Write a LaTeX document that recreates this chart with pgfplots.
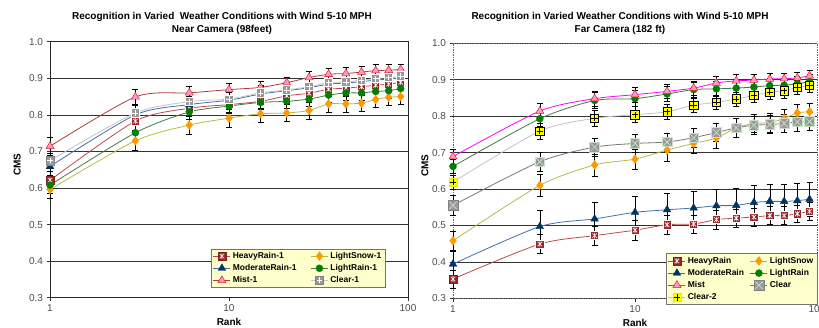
\documentclass[border=0pt]{standalone}
\usepackage{pgfplots}
\pgfplotsset{compat=1.18}
\usepackage{pgfplotstable}
\usepackage{fontspec}
\setmainfont{Liberation Sans}

\definecolor{hrFill}{RGB}{153,40,40}
\definecolor{hrLine}{RGB}{185,75,75}
\definecolor{mrMark}{RGB}{0,51,102}
\definecolor{mrLine}{RGB}{70,110,170}
\definecolor{lsMark}{RGB}{255,153,0}
\definecolor{lsLine}{RGB}{185,185,70}
\definecolor{lrMark}{RGB}{0,128,0}
\definecolor{lrLine}{RGB}{70,120,70}
\definecolor{miFill}{RGB}{255,153,204}
\definecolor{miDraw}{RGB}{230,30,30}
\definecolor{miLineL}{RGB}{175,60,60}
\definecolor{miLineR}{RGB}{255,0,255}
\definecolor{clFill}{RGB}{153,153,153}
\definecolor{clLineL}{RGB}{195,195,195}
\definecolor{clLineR}{RGB}{120,120,120}
\definecolor{c2Fill}{RGB}{255,255,0}
\definecolor{legfill}{RGB}{255,255,204}
\definecolor{xlight}{RGB}{200,225,200}

% square with white asterisk
\pgfdeclareplotmark{sqast}{%
  \pgfpathrectangle{\pgfqpoint{-\pgfplotmarksize}{-\pgfplotmarksize}}{\pgfqpoint{2\pgfplotmarksize}{2\pgfplotmarksize}}%
  \pgfusepathqfillstroke
  \pgfsetstrokecolor{white}\pgfsetlinewidth{0.6pt}%
  \pgfpathmoveto{\pgfqpoint{-0.55\pgfplotmarksize}{-0.55\pgfplotmarksize}}\pgfpathlineto{\pgfqpoint{0.55\pgfplotmarksize}{0.55\pgfplotmarksize}}%
  \pgfpathmoveto{\pgfqpoint{-0.55\pgfplotmarksize}{0.55\pgfplotmarksize}}\pgfpathlineto{\pgfqpoint{0.55\pgfplotmarksize}{-0.55\pgfplotmarksize}}%
  \pgfpathmoveto{\pgfqpoint{0pt}{-0.7\pgfplotmarksize}}\pgfpathlineto{\pgfqpoint{0pt}{0.7\pgfplotmarksize}}%
  \pgfusepathqstroke}
% square with white plus
\pgfdeclareplotmark{sqplusw}{%
  \pgfpathrectangle{\pgfqpoint{-\pgfplotmarksize}{-\pgfplotmarksize}}{\pgfqpoint{2\pgfplotmarksize}{2\pgfplotmarksize}}%
  \pgfusepathqfillstroke
  \pgfsetstrokecolor{white}\pgfsetlinewidth{0.8pt}%
  \pgfpathmoveto{\pgfqpoint{-0.7\pgfplotmarksize}{0pt}}\pgfpathlineto{\pgfqpoint{0.7\pgfplotmarksize}{0pt}}%
  \pgfpathmoveto{\pgfqpoint{0pt}{-0.7\pgfplotmarksize}}\pgfpathlineto{\pgfqpoint{0pt}{0.7\pgfplotmarksize}}%
  \pgfusepathqstroke}
% square with black plus
\pgfdeclareplotmark{sqplusb}{%
  \pgfpathrectangle{\pgfqpoint{-\pgfplotmarksize}{-\pgfplotmarksize}}{\pgfqpoint{2\pgfplotmarksize}{2\pgfplotmarksize}}%
  \pgfusepathqfillstroke
  \pgfsetstrokecolor{black}\pgfsetlinewidth{0.7pt}%
  \pgfpathmoveto{\pgfqpoint{-0.75\pgfplotmarksize}{0pt}}\pgfpathlineto{\pgfqpoint{0.75\pgfplotmarksize}{0pt}}%
  \pgfpathmoveto{\pgfqpoint{0pt}{-0.75\pgfplotmarksize}}\pgfpathlineto{\pgfqpoint{0pt}{0.75\pgfplotmarksize}}%
  \pgfusepathqstroke}
% square with light x
\pgfdeclareplotmark{sqx}{%
  \pgfpathrectangle{\pgfqpoint{-\pgfplotmarksize}{-\pgfplotmarksize}}{\pgfqpoint{2\pgfplotmarksize}{2\pgfplotmarksize}}%
  \pgfusepathqfillstroke
  \pgfsetstrokecolor{xlight}\pgfsetlinewidth{0.7pt}%
  \pgfpathmoveto{\pgfqpoint{-0.8\pgfplotmarksize}{-0.8\pgfplotmarksize}}\pgfpathlineto{\pgfqpoint{0.8\pgfplotmarksize}{0.8\pgfplotmarksize}}%
  \pgfpathmoveto{\pgfqpoint{-0.8\pgfplotmarksize}{0.8\pgfplotmarksize}}\pgfpathlineto{\pgfqpoint{0.8\pgfplotmarksize}{-0.8\pgfplotmarksize}}%
  \pgfusepathqstroke}

% ---------------- Near camera data ----------------
\pgfplotstableread{
x y e
1 0.621 0.025
3 0.783 0.025
6 0.818 0.022
10 0.828 0.020
15 0.837 0.020
21 0.852 0.020
28 0.859 0.020
36 0.870 0.020
45 0.873 0.020
55 0.877 0.020
66 0.881 0.020
78 0.884 0.020
91 0.889 0.020
}\nHR
\pgfplotstableread{
x y e
1 0.596 0.025
3 0.729 0.026
6 0.772 0.025
10 0.791 0.024
15 0.803 0.023
21 0.805 0.023
28 0.812 0.023
36 0.830 0.024
45 0.830 0.022
55 0.832 0.022
66 0.842 0.022
78 0.848 0.022
91 0.850 0.022
}\nLS
\pgfplotstableread{
x y e
1 0.659 0.025
3 0.800 0.025
6 0.828 0.022
10 0.840 0.022
15 0.857 0.022
21 0.866 0.022
28 0.874 0.022
36 0.884 0.022
45 0.887 0.022
55 0.891 0.022
66 0.895 0.022
78 0.898 0.022
91 0.902 0.022
}\nMR
\pgfplotstableread{
x y e
1 0.608 0.022
3 0.751 0.022
6 0.808 0.020
10 0.824 0.020
15 0.834 0.020
21 0.837 0.020
28 0.843 0.020
36 0.854 0.020
45 0.860 0.020
55 0.860 0.020
66 0.864 0.020
78 0.866 0.020
91 0.872 0.020
}\nLR
\pgfplotstableread{
x y e
1 0.714 0.024
3 0.849 0.020
6 0.860 0.017
10 0.869 0.018
15 0.875 0.018
21 0.888 0.016
28 0.902 0.016
36 0.911 0.016
45 0.913 0.016
55 0.917 0.016
66 0.921 0.016
78 0.922 0.015
91 0.924 0.014
}\nMI
\pgfplotstableread{
x y e
1 0.675 0.020
3 0.805 0.022
6 0.836 0.020
10 0.843 0.020
15 0.860 0.020
21 0.868 0.020
28 0.877 0.020
36 0.888 0.020
45 0.890 0.020
55 0.895 0.020
66 0.899 0.020
78 0.902 0.020
91 0.906 0.020
}\nCL

% ---------------- Far camera data ----------------
\pgfplotstableread{
x y e
1 0.353 0.025
3 0.449 0.026
6 0.472 0.027
10 0.487 0.027
15 0.502 0.026
21 0.504 0.025
28 0.516 0.026
36 0.520 0.025
45 0.523 0.024
55 0.527 0.025
66 0.527 0.025
78 0.532 0.024
91 0.539 0.024
}\fHR
\pgfplotstableread{
x y e
1 0.458 0.025
3 0.610 0.030
6 0.666 0.030
10 0.682 0.028
15 0.707 0.030
21 0.725 0.028
28 0.740 0.028
36 0.768 0.025
45 0.780 0.025
55 0.782 0.025
66 0.794 0.024
78 0.809 0.024
91 0.812 0.024
}\fLS
\pgfplotstableread{
x y e
1 0.394 0.035
3 0.497 0.045
6 0.518 0.045
10 0.536 0.045
15 0.543 0.045
21 0.548 0.046
28 0.554 0.046
36 0.555 0.047
45 0.563 0.046
55 0.566 0.047
66 0.566 0.047
78 0.568 0.047
91 0.572 0.047
}\fMR
\pgfplotstableread{
x y e
1 0.662 0.020
3 0.793 0.022
6 0.843 0.022
10 0.848 0.022
15 0.861 0.020
21 0.873 0.020
28 0.875 0.020
36 0.877 0.020
45 0.880 0.020
55 0.884 0.020
66 0.885 0.020
78 0.889 0.020
91 0.895 0.020
}\fLR
\pgfplotstableread{
x y e
1 0.689 0.020
3 0.814 0.022
6 0.848 0.020
10 0.859 0.020
15 0.868 0.020
21 0.877 0.020
28 0.891 0.018
36 0.897 0.017
45 0.899 0.016
55 0.902 0.016
66 0.903 0.016
78 0.905 0.016
91 0.911 0.015
}\fMI
\pgfplotstableread{
x y e
1 0.555 0.028
3 0.675 0.026
6 0.715 0.025
10 0.725 0.025
15 0.729 0.025
21 0.741 0.025
28 0.755 0.025
36 0.768 0.025
45 0.775 0.025
55 0.777 0.025
66 0.780 0.025
78 0.784 0.025
91 0.785 0.025
}\fCL
\pgfplotstableread{
x y e
1 0.619 0.020
3 0.759 0.022
6 0.794 0.022
10 0.804 0.022
15 0.812 0.020
21 0.830 0.020
28 0.838 0.020
36 0.847 0.020
45 0.857 0.020
55 0.866 0.020
66 0.870 0.020
78 0.879 0.020
91 0.884 0.018
}\fCT

\pgfplotsset{
  eb/.style={error bars/.cd, y dir=both, y explicit,
    error bar style={black, line width=0.5bp, solid},
    error mark options={black, mark size=3bp, line width=0.5bp, rotate=90}},
  hr/.style={hrLine, mark=sqast, mark size=4.1bp, mark options={fill=hrFill, draw=hrFill!80!black, line width=0.4bp}},
  ls/.style={lsLine, mark=diamond*, mark size=4.4bp, mark options={fill=lsMark, draw=lsMark, line width=0.4bp}},
  mr/.style={mrLine, mark=triangle*, mark size=4.4bp, mark options={fill=mrMark, draw=mrMark, line width=0.4bp}},
  lr/.style={lrLine, mark=*, mark size=3.5bp, mark options={fill=lrMark, draw=lrMark, line width=0.4bp}},
  mi/.style={mark=triangle*, mark size=4.6bp, mark options={fill=miFill, draw=miDraw, line width=0.5bp}},
  cl/.style={mark=sqplusw, mark size=4.2bp, mark options={fill=clFill, draw=clFill!85!black, line width=0.4bp}},
}

\begin{document}
\begin{tikzpicture}
\useasboundingbox (0,0) rectangle (819bp,328bp);

% ---------------- Near camera ----------------
\begin{axis}[
  scale only axis, at={(50bp,30.3bp)}, anchor=south west, width=358bp, height=256bp,
  xmode=log, xmin=1, xmax=100, ymin=0.3, ymax=1.0,
  xtick={1,10,100}, xticklabels={1,10,100}, xminorticks=false,
  ytick={0.3,0.4,0.5,0.6,0.7,0.8,0.9,1.0},
  yticklabels={0.3,0.4,0.5,0.6,0.7,0.8,0.9,1.0},
  ymajorgrids, grid style={black!80, line width=0.6bp},
  xtick pos=bottom, ytick pos=left,
  tick align=outside, major tick length=3.5bp, tick style={black!80, line width=0.5bp},
  tick label style={font=\fontsize{10bp}{12bp}\selectfont, text=black!70},
  clip=false,
  xlabel={Rank}, ylabel={CMS},
  label style={font=\bfseries\fontsize{10bp}{12bp}\selectfont},
  xlabel style={at={(axis description cs:0.5,-0.095)}, anchor=center},
  ylabel style={at={(axis description cs:-0.092,0.52)}, anchor=center},
  every axis plot/.append style={line width=0.8bp, smooth, tension=0.45},
  axis line style={black!85, line width=0.6bp},
  legend cell align=left,
  legend style={fill=legfill, draw=black!55, line width=0.5bp,
    font=\bfseries\fontsize{8.5bp}{10bp}\selectfont, legend columns=2,
    at={(0.936,0.038)}, anchor=south east, inner sep=1.5bp, row sep=0.5bp,
    /tikz/every even column/.append style={column sep=12bp}},
]
\addplot[hr, eb] table[x=x,y=y,y error=e]{\nHR};
\addlegendentry{HeavyRain-1}
\addplot[ls, eb] table[x=x,y=y,y error=e]{\nLS};
\addlegendentry{LightSnow-1}
\addplot[mr, eb] table[x=x,y=y,y error=e]{\nMR};
\addlegendentry{ModerateRain-1}
\addplot[lr, eb] table[x=x,y=y,y error=e]{\nLR};
\addlegendentry{LightRain-1}
\addplot[miLineL, mi, eb] table[x=x,y=y,y error=e]{\nMI};
\addlegendentry{Mist-1}
\addplot[clLineL, cl, eb] table[x=x,y=y,y error=e]{\nCL};
\addlegendentry{Clear-1}
\end{axis}

% ---------------- Far camera ----------------
\begin{axis}[
  scale only axis, at={(453bp,29.7bp)}, anchor=south west, width=364bp, height=255bp,
  xmode=log, xmin=1, xmax=100, ymin=0.3, ymax=1.0,
  xtick={1,10,100}, xticklabels={1,10,100}, xminorticks=false,
  ytick={0.3,0.4,0.5,0.6,0.7,0.8,0.9,1.0},
  yticklabels={0.3,0.4,0.5,0.6,0.7,0.8,0.9,1.0},
  ymajorgrids, grid style={black!80, line width=0.6bp},
  xtick pos=bottom, ytick pos=left,
  tick align=outside, major tick length=3.5bp, tick style={black!80, line width=0.5bp},
  tick label style={font=\fontsize{10bp}{12bp}\selectfont, text=black!70},
  clip=false,
  xlabel={Rank}, ylabel={CMS},
  label style={font=\bfseries\fontsize{10bp}{12bp}\selectfont},
  xlabel style={at={(axis description cs:0.5,-0.095)}, anchor=center},
  ylabel style={at={(axis description cs:-0.077,0.52)}, anchor=center},
  every axis plot/.append style={line width=0.8bp, smooth, tension=0.45},
  axis line style={black!60, line width=1bp, dash pattern=on 1.5bp off 1bp},
  legend cell align=left,
  legend style={fill=legfill, draw=black!55, line width=0.5bp,
    font=\bfseries\fontsize{8.5bp}{10bp}\selectfont, legend columns=2,
    at={(1.0,-0.026)}, anchor=south east, inner sep=1.5bp, row sep=0.5bp,
    /tikz/every even column/.append style={column sep=4bp}},
]
\addplot[hr, eb] table[x=x,y=y,y error=e]{\fHR};
\addlegendentry{HeavyRain}
\addplot[ls, eb] table[x=x,y=y,y error=e]{\fLS};
\addlegendentry{LightSnow}
\addplot[mr, eb] table[x=x,y=y,y error=e]{\fMR};
\addlegendentry{ModerateRain}
\addplot[lr, eb] table[x=x,y=y,y error=e]{\fLR};
\addlegendentry{LightRain}
\addplot[miLineR, mi, eb] table[x=x,y=y,y error=e]{\fMI};
\addlegendentry{Mist}
\addplot[clLineR, mark=sqx, mark size=4.8bp, mark options={fill=clFill, draw=clFill!85!black, line width=0.4bp}, eb] table[x=x,y=y,y error=e]{\fCL};
\addlegendentry{Clear}
\addplot[clLineL, mark=sqplusb, mark size=4.2bp, mark options={fill=c2Fill, draw=c2Fill!90!black, line width=0.4bp}, eb] table[x=x,y=y,y error=e]{\fCT};
\addlegendentry{Clear-2}
\end{axis}

\node[font=\bfseries\fontsize{10bp}{13bp}\selectfont, align=center] at (222bp,304.5bp)
  {Recognition in Varied\ \ Weather Conditions with Wind 5-10 MPH\\Near Camera (98feet)};
\node[font=\bfseries\fontsize{10bp}{13bp}\selectfont, align=center] at (620bp,305bp)
  {Recognition in Varied Weather Conditions with Wind 5-10 MPH\\Far Camera (182 ft)};
\end{tikzpicture}
\end{document}
